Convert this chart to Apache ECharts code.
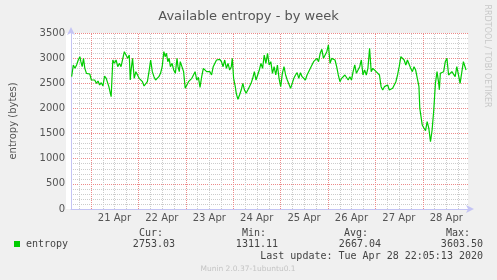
<!DOCTYPE html>
<html><head><meta charset="utf-8">
<script src="https://cdn.jsdelivr.net/npm/echarts@6/dist/echarts.min.js"></script>
<style>html,body{margin:0;padding:0;background:#f0f0f0}#c{width:497px;height:280px}</style>
</head><body><div id="c"></div>
<script>
// hours since 20 Apr 00:00
const hours = [14.33,15.17,16.0,16.83,17.67,18.5,19.0,19.67,20.33,21.0,21.83,22.67,23.5,24.33,25.17,26.0,26.83,27.67,28.5,29.33,30.17,31.0,31.83,32.67,33.17,34.0,34.33,35.17,36.0,36.83,37.67,38.5,39.33,40.17,41.0,41.83,42.67,43.5,44.0,44.33,45.17,46.0,46.83,47.67,48.5,49.33,50.17,51.0,51.83,52.67,53.5,54.33,55.17,56.0,56.83,57.67,58.5,59.33,60.17,61.0,61.67,62.33,63.0,63.67,64.33,65.17,66.0,66.83,67.67,68.17,68.83,69.33,70.17,71.0,71.83,72.67,73.5,74.33,75.17,76.0,76.83,77.67,78.5,79.33,80.17,81.0,81.83,82.67,83.5,84.33,85.17,86.0,86.83,87.67,88.5,89.33,90.17,91.0,91.83,92.67,93.5,94.33,95.17,95.67,96.33,97.17,97.67,98.5,99.33,100.17,101.0,101.83,102.67,103.5,104.33,105.17,106.0,106.83,107.67,108.5,109.33,110.17,111.0,111.83,112.67,113.5,114.33,115.17,116.0,116.83,117.67,118.5,119.33,120.17,121.0,121.83,122.67,123.5,124.33,125.17,126.0,126.83,127.67,128.5,129.33,130.17,131.0,131.83,132.67,133.5,134.33,135.17,136.0,136.83,137.67,138.5,139.33,140.17,141.0,141.83,142.67,143.5,144.33,145.17,146.0,146.83,147.67,148.5,149.33,150.17,151.0,151.83,152.67,153.5,154.33,155.17,156.0,156.83,157.67,158.5,159.33,160.17,161.0,161.83,162.67,163.5,164.33,165.17,166.0,166.83,167.67,168.5,169.33,170.17,171.0,171.83,172.67,173.5,174.33,175.17,176.0,176.83,177.67,178.5,179.33,180.17,181.0,181.83,182.67,183.5,184.33,185.17,186.0,186.83,187.67,188.5,189.33,190.17,190.6,191.83,192.67,193.5,194.33,195.17,196.0,196.83,197.67,198.5,199.33,200.17,200.5,201.0,201.83,202.67,203.5,204.33,205.17,206.0,206.83,207.67,208.5,209.33,210.17,211.0,211.83,212.67,213.5,214.0];
const entropy = [2632,2864,2797,2864,2963,3029,2930,2830,2996,2797,2698,2711,2685,2565,2532,2565,2499,2545,2466,2512,2446,2645,2599,2632,2433,2400,2234,2963,2897,2963,2830,2897,2830,2864,3129,3162,2996,3062,2565,2731,2996,2599,2731,2665,2599,2565,2532,2446,2446,2532,2731,2963,2731,2632,2565,2532,2632,2698,2830,3129,3029,3096,2930,2996,2830,2897,2764,2698,2996,2830,2731,2930,2897,2731,2400,2466,2532,2565,2599,2665,2731,2565,2618,2419,2632,2797,2764,2731,2698,2731,2665,2830,2864,2963,2930,2976,2930,2830,2963,2797,2897,2764,2830,2996,2599,2433,2300,2181,2267,2366,2499,2366,2300,2366,2433,2499,2599,2731,2565,2665,2764,2897,2797,3062,2897,3096,2864,2930,2698,2830,2665,2864,2599,2433,2698,2830,2665,2565,2532,2400,2499,2599,2665,2711,2599,2711,2632,2599,2565,2665,2731,2797,2830,2930,2897,2996,2930,3096,3175,2996,3029,3129,3261,2897,2996,3029,2963,2830,2665,2532,2599,2632,2665,2665,2565,2632,2565,2731,2864,2698,2764,2830,2963,2665,2764,2665,2797,3195,2731,2797,2764,2731,2731,2665,2433,2366,2433,2400,2466,2366,2333,2400,2466,2532,2665,2830,3029,2996,2963,2864,2963,2930,2797,2731,2830,2764,2731,2433,2000,1670,1611,1558,1737,1604,1339,1571,1969,2500,2731,2499,2370,2698,2665,2731,2930,2996,2665,2632,2731,2764,2632,2830,2665,2499,2466,2930,2897,2764];
const dayLabels = ['21 Apr','22 Apr','23 Apr','24 Apr','25 Apr','26 Apr','27 Apr','28 Apr'];
const yTicks = [0,500,1000,1500,2000,2500,3000,3500];
const statNames = ['Cur:','Min:','Avg:','Max:'];
const statValues = ['2753.03','1311.11','2667.04','3603.50'];
const seriesName = 'entropy';
const lastUpdate = 'Last update: Tue Apr 28 22:05:13 2020';

const xMin = 14, xMax = 215;
const dayNoons = dayLabels.map((_, i) => 36 + 24 * i);
const vGrid = [];
for (let h = 18; h < xMax; h += 6) vGrid.push([h, h % 24 === 0 ? 1 : 0]);

const chart = echarts.init(document.getElementById('c'), null, {renderer: 'canvas'});
const font = 'DejaVu Sans';
const axisCol = '#c4c4f4';
const majorCol = '#ec8a8a';
const minorCol = '#cccccc';

const statX = [163, 266, 368, 470];
const valX = [175, 278, 381, 483];
const graphics = [
  {type: 'rect', shape: {x: 66, y: 33, width: 402, height: 176}, style: {fill: '#ffffff'}, z: -10, silent: true},
  {type: 'text', style: {x: 487, y: 56, text: 'RRDTOOL / TOBI OETIKER', font: '8px "DejaVu Sans"', fill: '#c8c8c8', align: 'center', verticalAlign: 'middle'}, rotation: -Math.PI / 2, originX: 487, originY: 56},
  {type: 'rect', shape: {x: 14, y: 241, width: 6, height: 6}, style: {fill: '#00cc00'}},
  {type: 'text', style: {x: 26, y: 244.5, text: seriesName, font: '10px "DejaVu Sans Mono"', fill: '#444', verticalAlign: 'middle'}},
  {type: 'text', style: {x: 483, y: 256.5, text: lastUpdate, font: '10px "DejaVu Sans Mono"', fill: '#444', align: 'right', verticalAlign: 'middle'}},
  {type: 'text', style: {x: 248, y: 269, text: 'Munin 2.0.37-1ubuntu0.1', font: '7.5px "DejaVu Sans"', fill: '#c4c4c4', align: 'center', verticalAlign: 'middle'}}
];
statNames.forEach((s, i) => {
  graphics.push({type: 'text', style: {x: statX[i], y: 233, text: s, font: '10px "DejaVu Sans Mono"', fill: '#444', align: 'right', verticalAlign: 'middle'}});
  graphics.push({type: 'text', style: {x: valX[i], y: 244.5, text: statValues[i], font: '10px "DejaVu Sans Mono"', fill: '#444', align: 'right', verticalAlign: 'middle'}});
});

const option = {
  backgroundColor: '#f0f0f0',
  animation: false,
  title: {text: 'Available entropy - by week', left: 'center', top: 5, textStyle: {fontFamily: font, fontSize: 13, fontWeight: 'normal', color: '#555'}},
  grid: {left: 66, right: 29, top: 33, bottom: 71, containLabel: false},
  xAxis: {type: 'value', min: xMin, max: xMax, position: 'bottom',
     axisLine: {show: true, lineStyle: {color: axisCol, width: 1}, symbol: ['none', 'arrow'], symbolSize: [6, 8], symbolOffset: [0, 6]},
     axisTick: {show: false},
     axisLabel: {customValues: dayNoons, formatter: v => dayLabels[dayNoons.indexOf(v)], fontFamily: font, fontSize: 10, color: '#555', margin: 4},
     splitLine: {show: false}},
  yAxis: {type: 'value', min: 0, max: 3500, interval: 500,
    name: 'entropy (bytes)', nameLocation: 'middle', nameGap: 53, nameRotate: 90,
    nameTextStyle: {fontFamily: font, fontSize: 10, color: '#555'},
    axisLine: {show: true, lineStyle: {color: axisCol, width: 1}, symbol: ['none', 'arrow'], symbolSize: [6, 8], symbolOffset: [0, 6]},
    axisTick: {show: false},
    axisLabel: {customValues: yTicks, formatter: v => String(v), fontFamily: font, fontSize: 10, color: '#555', margin: 6},
    splitLine: {show: true, lineStyle: {color: majorCol, type: [1, 1]}},
    minorTick: {show: false, splitNumber: 5},
    minorSplitLine: {show: true, lineStyle: {color: minorCol, type: [1, 1]}}
  },
  series: [{
    type: 'custom', silent: true, z: 1,
    data: vGrid,
    renderItem: (params, api) => {
      const p0 = api.coord([api.value(0), 0]);
      const p1 = api.coord([api.value(0), 3500]);
      const x = Math.round(p0[0]) + 0.5;
      return {type: 'line', shape: {x1: x, y1: Math.round(p0[1]), x2: x, y2: Math.round(p1[1])},
        style: {stroke: api.value(1) ? majorCol : minorCol, lineWidth: 1, lineDash: [1, 1]}, z2: api.value(1) ? 2 : 1};
    }
  }, {
    type: 'line', name: seriesName,
    data: hours.map((h, i) => [h, entropy[i]]),
    showSymbol: false, symbol: 'none',
    lineStyle: {color: '#00cc00', width: 1.2},
    z: 5
  }],
  graphic: graphics
};
chart.setOption(option);
</script>
</body></html>
